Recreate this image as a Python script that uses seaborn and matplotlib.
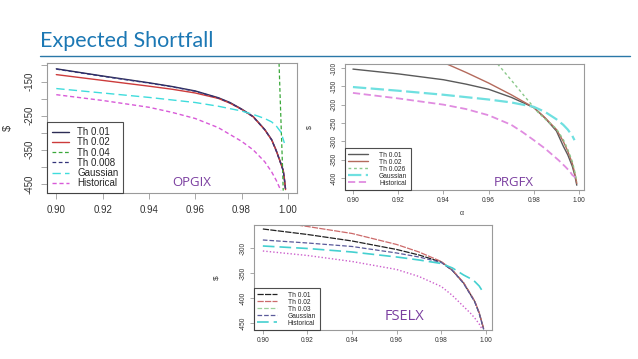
import matplotlib
matplotlib.use("Agg")
import matplotlib.pyplot as plt
from matplotlib.lines import Line2D
import seaborn as sns

# ===================== data =====================
# --- OPGIX ---
opg_x = [0.90, 0.92, 0.94, 0.95, 0.96, 0.97, 0.975, 0.98, 0.985, 0.99, 0.993, 0.995, 0.997, 0.998, 0.9985, 0.999]
opg_th001 = [-112, -133, -153, -164, -177, -197, -211, -230, -252, -290, -320, -352, -390, -410, -435, -465]
opg_th002 = [-129, -146, -163, -172, -183, -199, -213, -231, -253, -291, -321, -353, -391, -411, -436, -467]
opg_th0008 = [-113, -134, -154, -165, -178, -198, -212, -231, -253, -291, -321, -354, -392, -412, -437, -467]
opg_th004_x = [0.9962, 0.9966, 0.9970, 0.9974, 0.9978, 0.9980]
opg_th004 = [-95, -180, -260, -340, -420, -470]
opg_gauss_x = [0.90, 0.92, 0.94, 0.96, 0.97, 0.98, 0.985, 0.99, 0.993, 0.995, 0.997, 0.9985]
opg_gauss = [-170, -183, -196, -211, -222, -236, -246, -258, -268, -280, -298, -330]
opg_hist_x = [0.90, 0.92, 0.94, 0.95, 0.96, 0.97, 0.98, 0.985, 0.99, 0.993, 0.995, 0.996, 0.997]
opg_hist = [-188, -205, -225, -240, -258, -285, -325, -350, -385, -415, -440, -455, -470]

# --- PRGFX ---
prg_x = [0.90, 0.92, 0.94, 0.95, 0.96, 0.97, 0.98, 0.985, 0.99, 0.993, 0.995, 0.997, 0.998, 0.999]
prg_th001 = [-103, -116, -132, -144, -158, -180, -208, -237, -272, -313, -337, -368, -390, -420]
prg_th002_x = [0.9415, 0.95, 0.96, 0.97, 0.98, 0.985, 0.99, 0.993, 0.995, 0.997, 0.998, 0.999]
prg_th002 = [-89, -112, -141, -173, -208, -236, -268, -300, -327, -360, -385, -415]
prg_th0026_x = [0.964, 0.97, 0.976, 0.982, 0.986, 0.99, 0.993, 0.995, 0.997, 0.998, 0.999]
prg_th0026 = [-89, -133, -178, -222, -245, -266, -295, -322, -355, -380, -410]
prg_gauss_x = [0.90, 0.92, 0.94, 0.96, 0.97, 0.98, 0.985, 0.99, 0.993, 0.995, 0.997, 0.998]
prg_gauss = [-152, -162, -173, -186, -194, -206, -220, -240, -255, -268, -285, -297]
prg_hist_x = [0.90, 0.92, 0.94, 0.95, 0.96, 0.97, 0.975, 0.98, 0.985, 0.988, 0.991, 0.994, 0.996, 0.997, 0.998, 0.999]
prg_hist = [-168, -183, -200, -212, -229, -255, -275, -297, -320, -336, -352, -370, -383, -392, -397, -402]

# --- FSELX ---
fse_x = [0.90, 0.92, 0.94, 0.96, 0.97, 0.98, 0.985, 0.99, 0.993, 0.995, 0.997, 0.999]
fse_th001 = [-262, -273, -286, -303, -314, -328, -345, -370, -392, -407, -430, -462]
fse_th002_x = [0.912, 0.92, 0.94, 0.96, 0.97, 0.98, 0.985, 0.99, 0.993, 0.995, 0.997, 0.999]
fse_th002 = [-252, -257, -271, -293, -308, -327, -344, -369, -391, -406, -429, -461]
fse_gauss = [-284, -290, -297, -310, -318, -329, -345, -371, -393, -408, -431, -463]
fse_hist_x = [0.90, 0.92, 0.94, 0.96, 0.97, 0.98, 0.985, 0.99, 0.993, 0.995, 0.997, 0.9987]
fse_hist = [-296, -301, -308, -318, -324, -331, -340, -354, -361, -367, -376, -388]
fse_extra_x = [0.90, 0.92, 0.94, 0.96, 0.97, 0.98, 0.985, 0.99, 0.993, 0.995, 0.997, 0.998]
fse_extra = [-306, -315, -327, -343, -357, -377, -395, -417, -430, -440, -452, -460]

x_ticks = [0.90, 0.92, 0.94, 0.96, 0.98, 1.00]
x_ticklabels = ["0.90", "0.92", "0.94", "0.96", "0.98", "1.00"]

# ===================== style =====================
sns.set_theme(style="white")
plt.rcParams['font.family'] = ['Liberation Sans', 'DejaVu Sans']

SPINE = '#9a9a9a'
PURPLE = '#7b3fa0'


def r_axes(ax, fs, yticks, ylabels, xlim, ylim, tlen=3, pad=2):
    """R base-graphics look: grey box, outward ticks, rotated y labels"""
    for s in ax.spines.values():
        s.set_visible(True)
        s.set_color(SPINE)
        s.set_linewidth(0.8)
    ax.set_xlim(*xlim)
    ax.set_ylim(*ylim)
    ax.set_xticks(x_ticks)
    ax.set_xticklabels(x_ticklabels, fontsize=fs, color='#333333')
    ax.set_yticks(yticks)
    ax.set_yticklabels(ylabels, fontsize=fs, color='#333333', rotation=90, va='center')
    ax.tick_params(direction='out', length=tlen, width=0.6, color=SPINE,
                   bottom=True, left=True, pad=pad)
    ax.set_xlabel('')
    ax.set_ylabel('')


def r_legend(ax, fs, spacing, hlen, hpad):
    leg = ax.legend(loc='lower left', borderaxespad=0, fontsize=fs, frameon=True,
                    fancybox=False, handlelength=hlen, labelspacing=spacing,
                    borderpad=0.5, handletextpad=hpad)
    leg.get_frame().set_edgecolor('#222222')
    leg.get_frame().set_linewidth(0.8)


fig = plt.figure(figsize=(6.38, 3.59), dpi=100)

# ===================== OPGIX =====================
ax1 = fig.add_axes([0.0737, 0.4624, 0.392, 0.362])
sns.lineplot(x=opg_x, y=opg_th001, ax=ax1, color='#2d2d55', lw=1.0, label='Th 0.01')
sns.lineplot(x=opg_x, y=opg_th002, ax=ax1, color='#cc3b3b', lw=1.0, label='Th 0.02')
sns.lineplot(x=opg_th004_x, y=opg_th004, ax=ax1, color='#3aa83a', lw=0.9, linestyle=(0, (3, 2)), label='Th 0.04')
sns.lineplot(x=opg_x, y=opg_th0008, ax=ax1, color='#34347a', lw=0.9, linestyle=(0, (3, 2)), label='Th 0.008')
sns.lineplot(x=opg_gauss_x, y=opg_gauss, ax=ax1, color='#3fdcdc', lw=1.0, linestyle=(0, (6, 3)), label='Gaussian')
sns.lineplot(x=opg_hist_x, y=opg_hist, ax=ax1, color='#d85ad8', lw=1.0, linestyle=(0, (3, 2)), label='Historical')
r_axes(ax1, 7, list(range(-450, -99, 50)),
       ['-450', '', '-350', '', '-250', '', '-150', ''],
       (0.896, 1.004), (-477, -95), tlen=4, pad=5)
r_legend(ax1, 7, 0.02, 1.8, 0.8)
ax1.text(0.58, 0.077, 'OPGIX', transform=ax1.transAxes, color=PURPLE, fontsize=9.5,
         family=['Open Sans', 'DejaVu Sans'], ha='center', va='center')
ax1.set_ylabel('$', fontsize=8, color='#333333')
ax1.yaxis.set_label_coords(-0.135, 0.5)

# ===================== PRGFX =====================
ax2 = fig.add_axes([0.5408, 0.4708, 0.3746, 0.351])
sns.lineplot(x=prg_x, y=prg_th001, ax=ax2, color='#5a5a5a', lw=1.0, label='Th 0.01')
sns.lineplot(x=prg_th002_x, y=prg_th002, ax=ax2, color='#b46a5c', lw=1.0, label='Th 0.02')
sns.lineplot(x=prg_th0026_x, y=prg_th0026, ax=ax2, color='#8ac88a', lw=1.0, linestyle=(0, (2, 2)), label='Th 0.026')
sns.lineplot(x=prg_gauss_x, y=prg_gauss, ax=ax2, color='#6fe0e0', lw=1.6, linestyle=(0, (6, 2)), label='Gaussian')
sns.lineplot(x=prg_hist_x, y=prg_hist, ax=ax2, color='#e08ce0', lw=1.3, linestyle=(0, (4, 2)), label='Historical')
r_axes(ax2, 4.8, list(range(-400, -99, 50)),
       ['-400', '-350', '-300', '-250', '-200', '-150', '-100'],
       (0.8965, 1.0022), (-433, -89))
r_legend(ax2, 4.8, 0.0, 3.0, 1.6)
ax2.text(0.707, 0.063, 'PRGFX', transform=ax2.transAxes, color=PURPLE, fontsize=9.5,
         family=['Open Sans', 'DejaVu Sans'], ha='center', va='center')
ax2.set_ylabel('$', fontsize=5, color='#333333')
ax2.yaxis.set_label_coords(-0.134, 0.5)
ax2.set_xlabel('α', fontsize=5, color='#333333')
ax2.xaxis.set_label_coords(0.49, -0.16)

# ===================== FSELX =====================
ax3 = fig.add_axes([0.398, 0.0808, 0.373, 0.2925])
sns.lineplot(x=fse_x, y=fse_th001, ax=ax3, color='#222222', lw=0.9, linestyle=(0, (5, 1)), label='Th 0.01')
sns.lineplot(x=fse_th002_x, y=fse_th002, ax=ax3, color='#cc6a6a', lw=0.9, linestyle=(0, (5, 1)), label='Th 0.02')
ax3.plot([], [], color='#9ad09a', lw=0.9, linestyle='--', label='Th 0.03')
sns.lineplot(x=fse_x, y=fse_gauss, ax=ax3, color='#5a5a9a', lw=0.9, linestyle='--', label='Gaussian')
sns.lineplot(x=fse_hist_x, y=fse_hist, ax=ax3, color='#44d0d0', lw=1.2, linestyle=(0, (7, 3)), label='Historical')
sns.lineplot(x=fse_extra_x, y=fse_extra, ax=ax3, color='#cc5fcc', lw=1.0, linestyle=(0, (1, 1.5)))
r_axes(ax3, 4.8, [-450, -400, -350, -300], ['-450', '-400', '-350', '-300'],
       (0.896, 1.0027), (-464, -254))
r_legend(ax3, 4.8, 0.0, 3.0, 1.6)
ax3.text(0.634, 0.133, 'FSELX', transform=ax3.transAxes, color=PURPLE, fontsize=10.5,
         family=['Open Sans', 'DejaVu Sans'], ha='center', va='center')
ax3.set_ylabel('$', fontsize=6, color='#333333')
ax3.yaxis.set_label_coords(-0.143, 0.5)

# ===================== slide title =====================
fig.text(40 / 638, 1 - 41 / 359, 'Expected Shortfall', fontsize=15.5, color='#1c78b4',
         family=['Lato', 'DejaVu Sans'], ha='left', va='center')
fig.add_artist(Line2D([40 / 638, 630 / 638], [1 - 55.5 / 359] * 2, color='#2a78a8', lw=1.0))

fig.savefig('out.png', dpi=100, facecolor='white')
